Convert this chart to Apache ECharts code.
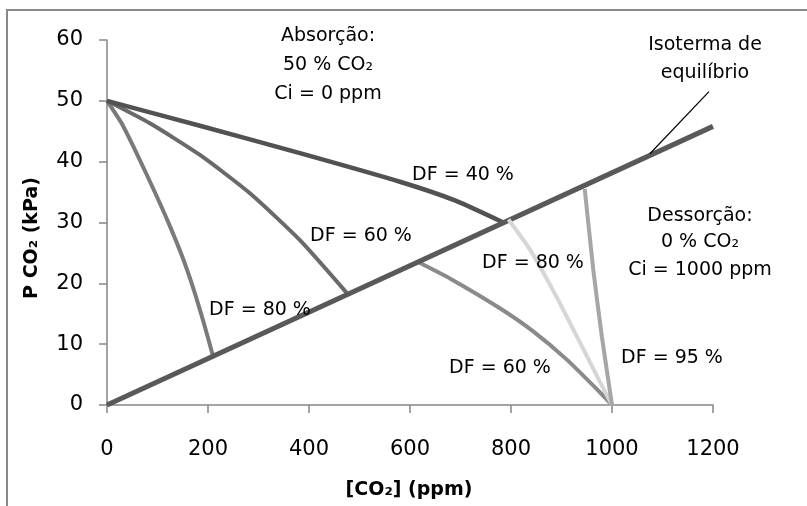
<!DOCTYPE html>
<html>
<head>
<meta charset="utf-8">
<script src="https://cdn.jsdelivr.net/npm/echarts@6/dist/echarts.min.js"></script>
<style>
html,body{margin:0;padding:0;background:#fff;}
#chart{width:807px;height:506px;}
</style>
</head>
<body>
<div id="chart"></div>
<script>
// ---- data ----
var xTicks = [0, 200, 400, 600, 800, 1000, 1200];
var yTicks = [0, 10, 20, 30, 40, 50, 60];
var isotherm = [[0, 0], [1200, 45.8]];
var absDF40 = [[0, 50], [184, 45.9], [382, 41.4], [580, 36.7], [690, 33.6], [785, 30.0]];
var absDF60 = [[0, 50], [85, 46.3], [184, 41.1], [283, 34.8], [382, 27.1], [475, 18.4]];
var absDF80 = [[0, 50], [29, 46.3], [62, 40.8], [93, 35.3], [122, 29.9], [149, 24.4], [172, 18.9], [192, 13.4], [209, 8.3]];
var desDF60 = [[616, 23.5], [679, 20.8], [778, 15.9], [844, 12.1], [910, 7.5], [976, 2.1], [1000, 0]];
var desDF80 = [[795, 30.5], [838, 25.5], [890, 17.8], [937, 10.2], [976, 3.8], [1000, 0]];
var desDF95 = [[946, 35.5], [963, 22.2], [980, 11.2], [1000, 0]];
var leader = [[1075, 41.3], [1192, 51.5]];
var xTitle = '[CO₂] (ppm)';
var yTitle = 'P CO₂ (kPa)';
var notes = [
  {t: 'Absorção:', x: 328, y: 36},
  {t: '50 % CO₂', x: 328, y: 65},
  {t: 'Ci = 0 ppm', x: 328, y: 94},
  {t: 'Isoterma de', x: 705, y: 45},
  {t: 'equilíbrio', x: 705, y: 73},
  {t: 'Dessorção:', x: 700, y: 216},
  {t: '0 % CO₂', x: 700, y: 242},
  {t: 'Ci = 1000 ppm', x: 700, y: 270},
  {t: 'DF = 40 %', x: 463, y: 175},
  {t: 'DF = 60 %', x: 361, y: 236},
  {t: 'DF = 80 %', x: 260, y: 310},
  {t: 'DF = 80 %', x: 533, y: 263},
  {t: 'DF = 60 %', x: 500, y: 368},
  {t: 'DF = 95 %', x: 672, y: 358}
];

var FONT = '"DejaVu Sans", sans-serif';
var chart = echarts.init(document.getElementById('chart'));

function curve(data, color, width, smooth) {
  return {
    type: 'line', data: data, smooth: smooth, showSymbol: false, symbol: 'none',
    lineStyle: {color: color, width: width}, silent: true, animation: false
  };
}

var graphics = [
  {type: 'rect', shape: {x: 7, y: 10, width: 830, height: 540}, style: {fill: 'none', stroke: '#898989', lineWidth: 2}, z: 0}
];
notes.forEach(function (n) {
  graphics.push({type: 'text', x: n.x, y: n.y, style: {text: n.t, font: '19px ' + FONT, fill: '#000', textAlign: 'center', textVerticalAlign: 'middle'}, z: 10});
});
graphics.push({type: 'text', x: 409, y: 490, style: {text: xTitle, font: 'bold 19px ' + FONT, fill: '#000', textAlign: 'center', textVerticalAlign: 'middle'}, z: 10});
graphics.push({type: 'text', x: 32, y: 238, rotation: Math.PI / 2, style: {text: yTitle, font: 'bold 19px ' + FONT, fill: '#000', textAlign: 'center', textVerticalAlign: 'middle'}, z: 10});

chart.setOption({
  animation: false,
  backgroundColor: '#fff',
  grid: {left: 107, right: 94, top: 40, bottom: 101},
  xAxis: {
    type: 'value', min: 0, max: 1200, interval: 200,
    axisLine: {show: true, lineStyle: {color: '#868686', width: 1.5}},
    axisTick: {show: true, inside: false, length: 8, lineStyle: {color: '#868686', width: 1.5}},
    splitLine: {show: false},
    axisLabel: {margin: 34, fontSize: 21, fontFamily: FONT, color: '#000',
      formatter: function (v) { return xTicks.indexOf(v) >= 0 ? String(v) : ''; }}
  },
  yAxis: {
    type: 'value', min: 0, max: 60, interval: 10,
    axisLine: {show: true, lineStyle: {color: '#868686', width: 1.5}},
    axisTick: {show: true, inside: false, length: 8, lineStyle: {color: '#868686', width: 1.5}},
    splitLine: {show: false},
    axisLabel: {margin: 24, fontSize: 21, fontFamily: FONT, color: '#000',
      formatter: function (v) { return yTicks.indexOf(v) >= 0 ? String(v) : ''; }}
  },
  series: [
    curve(absDF80, '#7a7a7a', 4, 0.2),
    curve(absDF60, '#6a6a6a', 4, 0.2),
    curve(absDF40, '#525252', 4.5, 0.2),
    curve(desDF60, '#8a8a8a', 4, 0.2),
    curve(isotherm, '#595959', 5, false),
    curve(desDF80, '#d6d6d6', 4, 0.2),
    curve(desDF95, '#a6a6a6', 4, 0.2),
    curve(leader, '#000000', 1.2, false)
  ],
  graphic: graphics
});
</script>
</body>
</html>
